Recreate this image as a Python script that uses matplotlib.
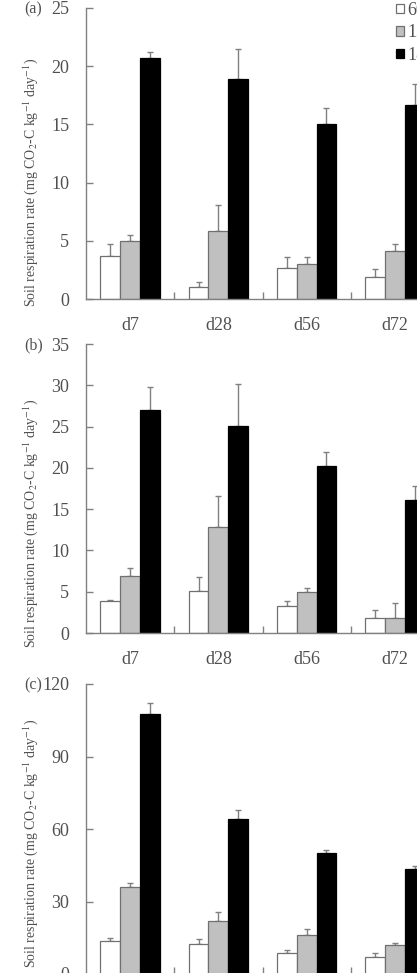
import matplotlib
matplotlib.use("Agg")
import matplotlib.pyplot as plt
import numpy as np
from matplotlib.patches import Patch

plt.rcParams['font.family'] = ['Liberation Serif', 'DejaVu Serif']
plt.rcParams['mathtext.fontset'] = 'stix'

days = ["d7", "d28", "d56", "d72"]
series = ["60%", "120%", "180%"]

# panel (a)
a_low = [3.7, 1.0, 2.7, 1.9]
a_mid = [5.0, 5.8, 3.0, 4.1]
a_high = [20.7, 18.9, 15.0, 16.7]
a_low_err = [1.0, 0.5, 0.9, 0.7]
a_mid_err = [0.5, 2.3, 0.6, 0.6]
a_high_err = [0.5, 2.6, 1.4, 1.8]

# panel (b)
b_low = [3.9, 5.1, 3.3, 1.8]
b_mid = [6.9, 12.8, 5.0, 1.8]
b_high = [27.0, 25.1, 20.2, 16.1]
b_low_err = [0.1, 1.7, 0.6, 1.0]
b_mid_err = [1.0, 3.8, 0.4, 1.8]
b_high_err = [2.8, 5.0, 1.7, 1.7]

# panel (c)
c_low = [13.8, 12.4, 8.6, 7.2]
c_mid = [36.0, 22.1, 16.2, 11.8]
c_high = [107.5, 64.0, 50.0, 43.5]
c_low_err = [0.9, 2.0, 1.3, 1.3]
c_mid_err = [1.8, 3.5, 2.6, 1.0]
c_high_err = [4.5, 4.0, 1.2, 1.0]

panels = [
    ("(a)", [a_low, a_mid, a_high], [a_low_err, a_mid_err, a_high_err], 25, 5),
    ("(b)", [b_low, b_mid, b_high], [b_low_err, b_mid_err, b_high_err], 35, 5),
    ("(c)", [c_low, c_mid, c_high], [c_low_err, c_mid_err, c_high_err], 120, 30),
]

W, H = 417, 973
fig = plt.figure(figsize=(W / 100, H / 100), dpi=100)

# axes boxes in pixels: (top, bottom), and where the y label sits along each axis
boxes = [(8, 299), (344, 633), (684, 974)]
label_y = [0.40, 0.38, 0.45]
left_px, right_px = 86, 439

fills = ["white", "#c0c0c0", "black"]
edges = ["#707070", "#707070", "black"]
gray = "#808080"
txt = "#505050"
ylabel = "Soil respiration rate (mg CO$_2$-C kg$^{-1}$ day$^{-1}$)"

bw = 0.224
x = np.arange(len(days)) + 0.5

for (label, vals, errs, ymax, step), (top, bot), ly in zip(panels, boxes, label_y):
    ax = fig.add_axes([left_px / W, 1 - bot / H, (right_px - left_px) / W, (bot - top) / H])
    for i, (v, e) in enumerate(zip(vals, errs)):
        pos = x + (i - 1) * bw
        ax.bar(pos, v, bw, color=fills[i], edgecolor=edges[i], linewidth=0.9, zorder=2)
        ax.errorbar(pos, v, yerr=[np.zeros(len(e)), e], fmt="none", ecolor=gray,
                    elinewidth=1.0, capsize=2.5, capthick=1.0, zorder=1)
    ax.set_xlim(0, len(days))
    ax.set_ylim(0, ymax)
    ax.set_yticks(np.arange(0, ymax + 0.1, step))
    ax.set_xticks(x)
    ax.set_xticklabels(days)
    ax.set_xticks(np.arange(1, len(days) + 1), minor=True)
    ax.tick_params(axis="x", which="major", length=0, pad=13, labelsize=13, labelcolor=txt)
    ax.tick_params(axis="x", which="minor", direction="in", length=5, color=gray, width=1)
    ax.tick_params(axis="y", direction="in", length=5, color=gray, width=1,
                   labelsize=13, labelcolor=txt, pad=12)
    for s in ["top", "right"]:
        ax.spines[s].set_visible(False)
    for s in ["left", "bottom"]:
        ax.spines[s].set_color(gray)
        ax.spines[s].set_linewidth(1.0)
    ax.set_ylabel(ylabel, fontsize=10, color=txt)
    ax.yaxis.set_label_coords(-0.13, ly)
    fig.text(24 / W, 1 - (top + 1) / H, label, fontsize=11.5, color=txt, va="center", ha="left")

handles = [Patch(facecolor=f, edgecolor=e, linewidth=0.9) for f, e in zip(fills, edges)]
fig.legend(handles, series, loc="upper left", bbox_to_anchor=(396 / W, 1 - 2 / H), frameon=False,
           fontsize=13, handlelength=0.42, handleheight=0.42, handletextpad=0.2,
           labelspacing=0.3, borderpad=0, borderaxespad=0, labelcolor=txt)

fig.savefig("out.png", dpi=100)
